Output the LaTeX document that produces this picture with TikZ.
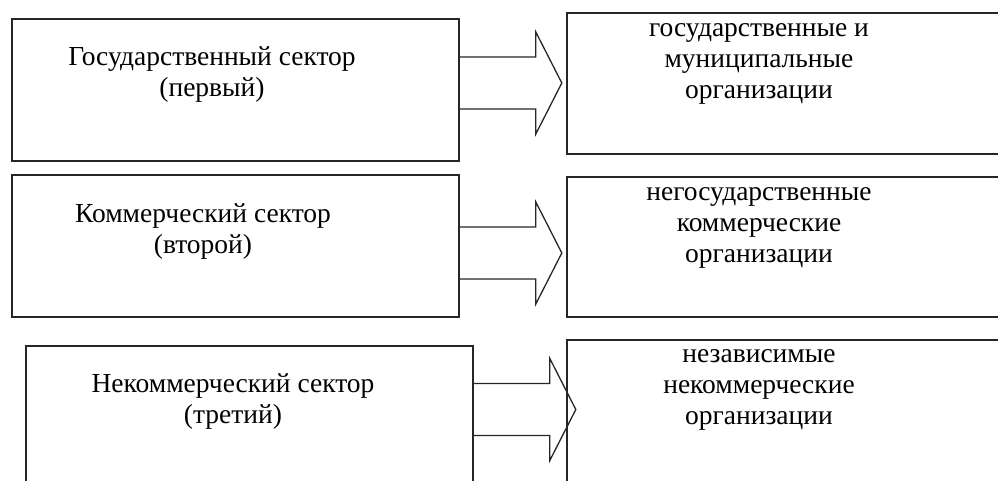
\documentclass[tikz,border=0pt]{standalone}
\usepackage{fontspec}
\setmainfont{Liberation Serif}
\usetikzlibrary{positioning, calc}

\begin{document}
\begin{tikzpicture}[x=1pt, y=-1pt,
    sector/.style={draw=black!85, line width=1.6pt, minimum width=447pt, minimum height=142pt, inner sep=0pt},
    orgbox/.style={draw=black!85, line width=1.6pt, minimum width=443pt, inner sep=0pt},
    sectext/.style={font=\fontsize{27.5}{31}\selectfont, align=center, anchor=base},
    blockarrow/.style={draw=black!85, line width=1.3pt, line join=miter}]

    % Frame of the page
    \useasboundingbox (0,0) rectangle (998,481);
    \clip (0,0) rectangle (998,481);

    % Sectors (left)
    \node[sector] (gos) at (235.5,90) {};
    \node[sector] (kom) at (235.5,246) {};
    \node[sector] (nek) at (249.5,417) {};

    % Organisations (right)
    \node[orgbox, minimum height=141pt] (gosorg) at (788.5,83.5) {};
    \node[orgbox, minimum height=140pt] (komorg) at (788.5,247) {};
    \node[orgbox, minimum height=150pt] (nekorg) at (788.5,415) {};

    % Texts (base = last line)
    \node[sectext] (gostxt) at (212,97) {Государственный сектор\\(первый)};
    \node[sectext] (komtxt) at (203,253) {Коммерческий сектор\\(второй)};
    \node[sectext] (nektxt) at (233,423) {Некоммерческий сектор\\(третий)};
    \node[sectext] (gosorgtxt) at (759,99) {государственные и\\муниципальные\\организации};
    \node[sectext] (komorgtxt) at (759,262) {негосударственные\\коммерческие\\организации};
    \node[sectext] (nekorgtxt) at (759,424) {независимые\\некоммерческие\\организации};

    % Block arrows from sector to organisations
    \foreach \s/\d in {gos/-7, kom/7, nek/-7.5} {
      \draw[blockarrow] ($(\s.east)+(0,\d-26)$) -- ++(76,0) -- ++(0,-25) -- ++(26,51)
        -- ++(-26,51) -- ++(0,-25) -- ++(-76,0);
    }

\end{tikzpicture}
\end{document}
